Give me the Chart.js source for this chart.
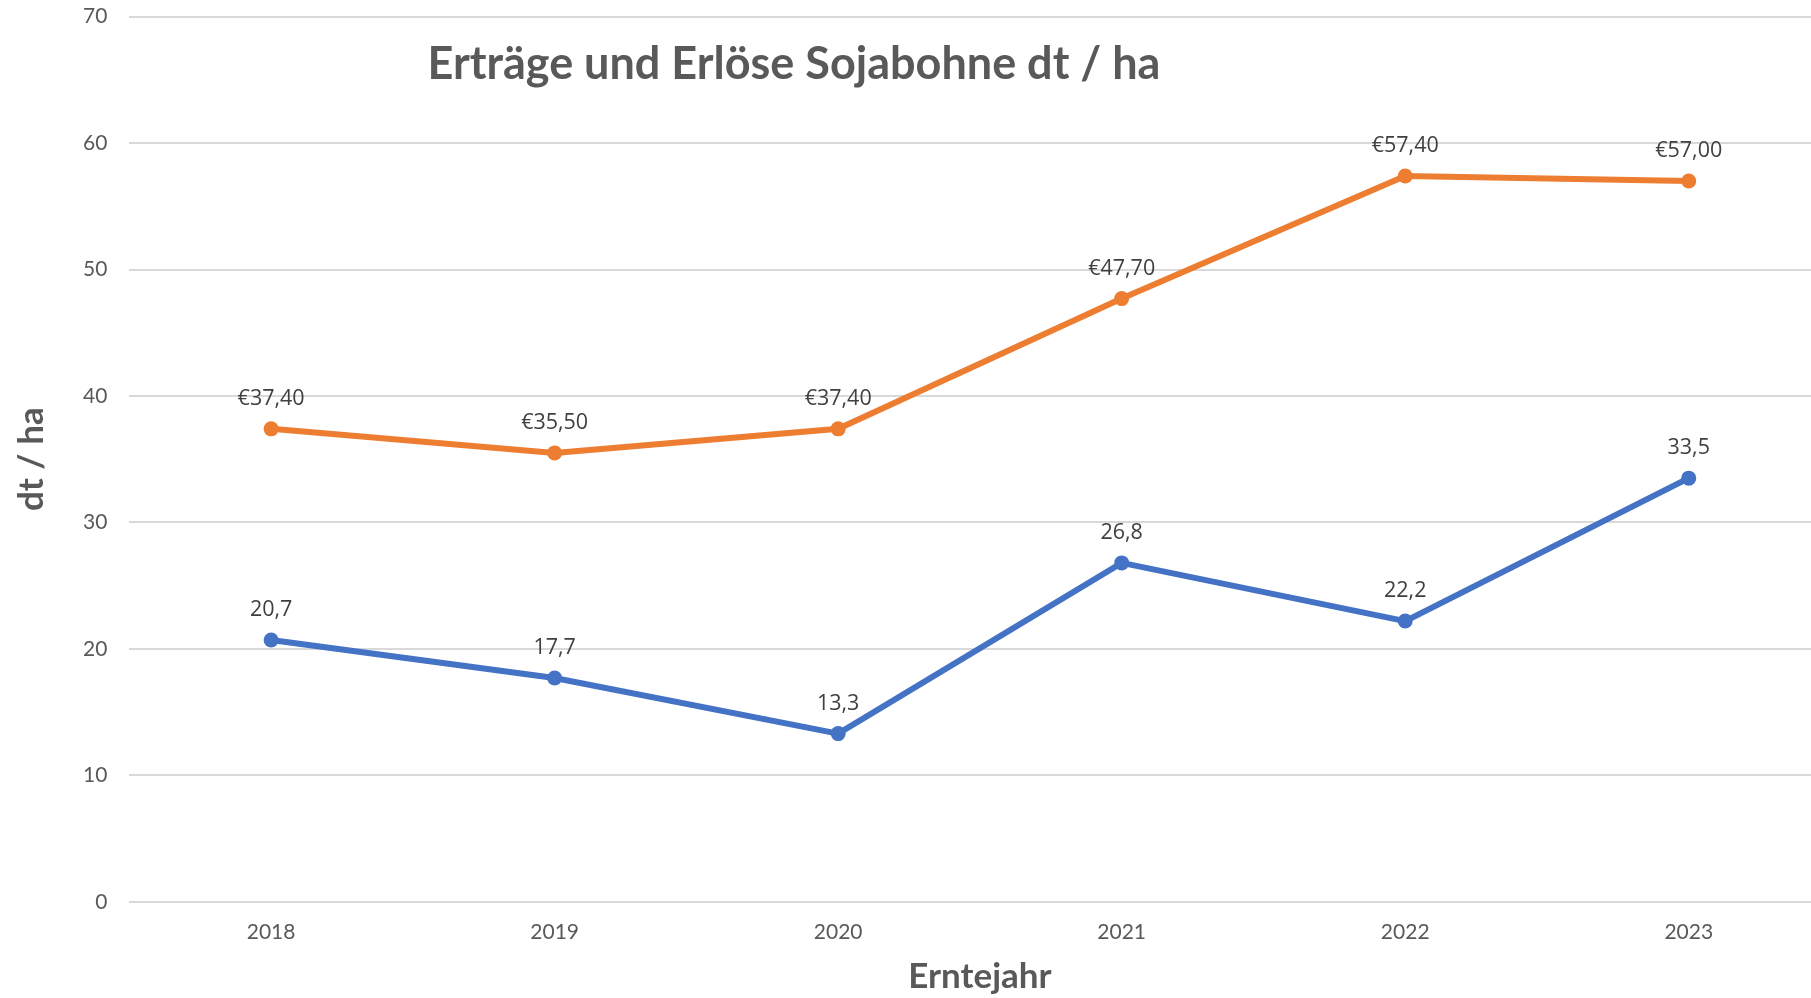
<!DOCTYPE html>
<html>
<head>
<meta charset="utf-8">
<script src="https://cdn.jsdelivr.net/npm/chart.js@4.4.0/dist/chart.umd.min.js"></script>
<style>
  html, body { margin: 0; padding: 0; background: #fff; overflow: hidden; }
  #wrap { width: 1838px; height: 1016px; position: relative; top: -18px; }
</style>
</head>
<body>
<div id="wrap"><canvas id="myline"></canvas></div>
<script>
// data
const years = ['2018', '2019', '2020', '2021', '2022', '2023'];
const ertraege = [20.7, 17.7, 13.3, 26.8, 22.2, 33.5];
const erloese = [37.4, 35.5, 37.4, 47.7, 57.4, 57.0];
const yTicks = [0, 10, 20, 30, 40, 50, 60, 70];

const grey = '#595959';

// labels over the points (no datalabels plugin offline)
const pointLabels = {
  id: 'pointLabels',
  afterDatasetsDraw(chart) {
    const ctx = chart.ctx;
    ctx.save();
    ctx.font = '21.5px "Open Sans"';
    ctx.fillStyle = '#404040';
    ctx.textAlign = 'center';
    ctx.textBaseline = 'middle';
    chart.data.datasets.forEach((ds, i) => {
      const meta = chart.getDatasetMeta(i);
      meta.data.forEach((pt, j) => {
        const v = ds.data[j];
        const txt = ds.euro ? '€' + v.toFixed(2).replace('.', ',') : v.toFixed(1).replace('.', ',');
        ctx.fillText(txt, pt.x, pt.y - 30);
      });
    });
    ctx.restore();
  }
};

// title sits inside the plot like in the excel sheet
const innerTitle = {
  id: 'innerTitle',
  afterDraw(chart) {
    const ctx = chart.ctx;
    ctx.save();
    ctx.font = 'bold 45px Lato';
    ctx.fillStyle = grey;
    ctx.textAlign = 'center';
    ctx.textBaseline = 'middle';
    ctx.fillText('Erträge und Erlöse Sojabohne dt / ha', 794, 82);
    ctx.restore();
  }
};

const data = {
  labels: years,
  datasets: [{
    label: 'Erträge',
    data: ertraege,
    borderColor: '#4472C4',
    backgroundColor: '#4472C4',
    borderWidth: 6,
    pointRadius: 7.5,
    pointBorderWidth: 0,
    euro: false
  }, {
    label: 'Erlöse',
    data: erloese,
    borderColor: '#ED7D31',
    backgroundColor: '#ED7D31',
    borderWidth: 6,
    pointRadius: 7.5,
    pointBorderWidth: 0,
    euro: true
  }]
};

const config = {
  type: 'line',
  data: data,
  options: {
    responsive: true,
    maintainAspectRatio: false,
    animation: false,
    layout: { padding: { top: 0, right: 1, left: 0, bottom: 0 } },
    plugins: {
      legend: { display: false },
      tooltip: { enabled: false },
      title: { display: false }
    },
    scales: {
      x: {
        offset: true,
        grid: { display: false, drawTicks: false },
        border: { display: false },
        ticks: { color: grey, font: { family: 'Lato', size: 21 }, padding: 18 },
        title: {
          display: true,
          text: 'Erntejahr',
          color: grey,
          font: { family: 'Lato', size: 35, weight: 'bold' },
          padding: { top: -7, bottom: 0 }
        }
      },
      y: {
        min: 0,
        max: 70,
        afterBuildTicks: (axis) => { axis.ticks = yTicks.map(v => ({ value: v })); },
        grid: { color: '#D9D9D9', lineWidth: 2, drawTicks: false },
        border: { display: false },
        ticks: { color: grey, font: { family: 'Lato', size: 21 }, padding: 22 },
        title: {
          display: true,
          text: 'dt / ha',
          color: grey,
          font: { family: 'Lato', size: 35, weight: 'bold' },
          padding: { top: 11, bottom: 8 }
        }
      }
    }
  },
  plugins: [pointLabels, innerTitle]
};

const ctx0 = document.querySelector('#myline').getContext('2d');
const myChart0 = new Chart(ctx0, config);
</script>
</body>
</html>
